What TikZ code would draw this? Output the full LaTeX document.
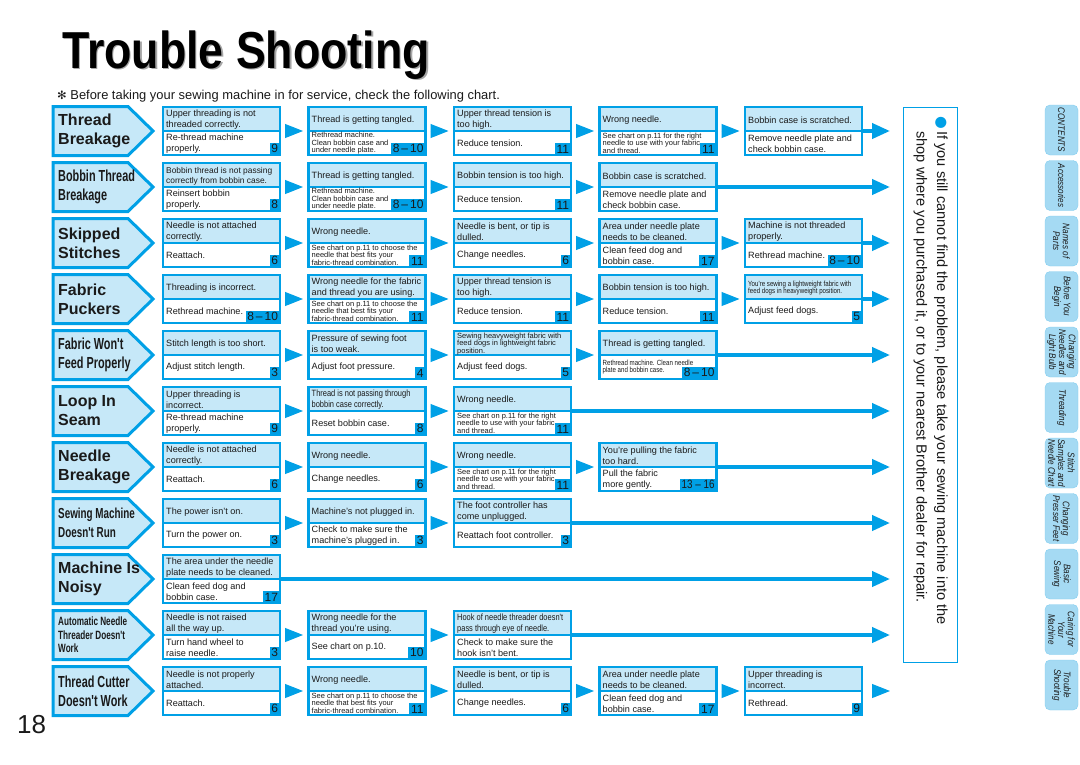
\documentclass[tikz,border=0pt]{standalone}
\usepackage{fontspec}
\setmainfont{Liberation Sans}
\newfontfamily\condf[FakeStretch=0.82]{Liberation Sans}
\newfontfamily\catf[FakeStretch=0.68]{Liberation Sans}
\newfontfamily\titf[FakeStretch=0.86]{Liberation Sans}
\newfontfamily\tabf[FakeStretch=0.84]{Liberation Sans}
\newfontfamily\djv{DejaVu Sans}
\usetikzlibrary{arrows.meta}
\definecolor{cy}{HTML}{00A0E6}
\definecolor{lb}{HTML}{C6E8F8}
\definecolor{tabc}{HTML}{A5DAF3}
\definecolor{ink}{HTML}{1A1A1A}

\newcommand\tbA{\fontsize{9.1}{11}\selectfont}
\newcommand\tbS{\fontsize{7.5}{7.4}\selectfont}
\newcommand\tbC{\condf\fontsize{9.1}{11}\selectfont}
\newcommand\tbM{\fontsize{8.4}{10}\selectfont}
\newcommand\tbSC{\condf\fontsize{7.5}{7.4}\selectfont}
\newcommand\catA{\bfseries\fontsize{16}{19}\selectfont}
\newcommand\catB{\catf\bfseries\fontsize{16}{19}\selectfont}
\newcommand\catD{\catf\bfseries\fontsize{14.5}{19}\selectfont}
\newcommand\catC{\catf\bfseries\fontsize{12}{13.5}\selectfont}

\newcommand\TBox[8]{%
  \pgfmathsetmacro\tbx{163+145.5*(#2-1)}%
  \pgfmathsetmacro\tby{106+56*(#3-1)}%
  \fill[white] (\tbx,\tby+1) rectangle (\tbx+117,\tby+49);
  \fill[lb] (\tbx,\tby+1) rectangle (\tbx+117,\tby+25);
  \draw[cy, line width=1.8pt] (\tbx,\tby+25) -- (\tbx+117,\tby+25);
  \node[frame, anchor=north west] (#1) at (\tbx,\tby+1) {};
  \node[txt, font=#7] (#1-t) at (\tbx+3,\tby+14) {#4};
  \node[txt, font=#8] (#1-b) at (\tbx+3,\tby+37.3) {#5};
  \if\relax\detokenize{#6}\relax\else
    \node[num] (#1-n) at (#1.south east) {#6};
  \fi
}
\newcommand\Cat[3]{%
  \pgfmathsetmacro\tby{106+56*(#1-1)}%
  \draw[catshape] (53,\tby+0.5) -- (128,\tby+0.5) -- (153,\tby+25) -- (128,\tby+49.5) -- (53,\tby+49.5) -- cycle;
  \node[cattxt, font=#2] (cat#1) at (58,\tby+25) {#3};
}

\begin{document}
\begin{tikzpicture}[x=1pt,y=-1pt,
  frame/.style={draw=cy, line width=2.6pt, minimum width=117pt, minimum height=48pt, inner sep=0pt, outer sep=0pt},
  txt/.style={inner sep=0pt, align=left, text=ink, anchor=west},
  num/.style={fill=cy, text=ink, font=\fontsize{12}{12}\selectfont, inner xsep=1.8pt, inner ysep=1.8pt, anchor=south east},
  gap/.style={cy, line width=1pt, -{Triangle[length=18pt,width=14pt]}, shorten <=5pt, shorten >=5.5pt},
  endarr/.style={cy, line width=4pt, -{Triangle[length=18pt,width=15pt]}},
  catshape/.style={fill=lb, draw=cy, line width=3pt, line join=miter},
  cattxt/.style={inner sep=0pt, align=left, anchor=west, text=ink},
  tab/.style={rotate=-90, fill=tabc, draw=tabc!80!cy, line width=0.4pt, rounded corners=5pt, minimum width=50pt, minimum height=33pt, inner sep=1pt, align=center, font=\tabf\itshape\fontsize{9.6}{9.8}\selectfont, text=ink}
]
\useasboundingbox (0,0) rectangle (1080,764);
\fill[white] (0,0) rectangle (1080,764);

% title
\node[font=\titf\bfseries\fontsize{52}{52}\selectfont, text=black!35, anchor=base west, inner sep=0pt] (titleshadow) at (63.5,69.5) {Trouble Shooting};
\node[font=\titf\bfseries\fontsize{52}{52}\selectfont, text=black, anchor=base west, inner sep=0pt] (title) at (62,68) {Trouble Shooting};
\node[font=\fontsize{12.9}{14}\selectfont, anchor=base west, inner sep=0pt, text=ink] (sub) at (57,99) {{\djv\fontsize{11.5}{11.5}\selectfont ✻}\ Before taking your sewing machine in for service, check the following chart.};
\node[font=\fontsize{26}{26}\selectfont, anchor=base west, inner sep=0pt, text=ink] (pg) at (17,733) {18};

% row 1
\Cat{1}{\catA}{Thread\\Breakage}
\TBox{r1-1}{1}{1}{Upper threading is not\\threaded correctly.}{Re-thread machine\\properly.}{9}{\tbA}{\tbA}
\TBox{r1-2}{2}{1}{Thread is getting tangled.}{Rethread machine.\\Clean bobbin case and\\under needle plate.}{8\,–\,10}{\tbA}{\tbS}
\TBox{r1-3}{3}{1}{Upper thread tension is\\too high.}{Reduce tension.}{11}{\tbA}{\tbA}
\TBox{r1-4}{4}{1}{Wrong needle.}{See chart on p.11 for the right\\needle to use with your fabric\\and thread.}{11}{\tbA}{\tbS}
\TBox{r1-5}{5}{1}{Bobbin case is scratched.}{Remove needle plate and\\check bobbin case.}{}{\tbA}{\tbA}
% row 2
\Cat{2}{\catB}{Bobbin Thread\\Breakage}
\TBox{r2-1}{1}{2}{Bobbin thread is not passing\\correctly from bobbin case.}{Reinsert bobbin\\properly.}{8}{\tbM}{\tbA}
\TBox{r2-2}{2}{2}{Thread is getting tangled.}{Rethread machine.\\Clean bobbin case and\\under needle plate.}{8\,–\,10}{\tbA}{\tbS}
\TBox{r2-3}{3}{2}{Bobbin tension is too high.}{Reduce tension.}{11}{\tbA}{\tbA}
\TBox{r2-4}{4}{2}{Bobbin case is scratched.}{Remove needle plate and\\check bobbin case.}{}{\tbA}{\tbA}
% row 3
\Cat{3}{\catA}{Skipped\\Stitches}
\TBox{r3-1}{1}{3}{Needle is not attached\\correctly.}{Reattach.}{6}{\tbA}{\tbA}
\TBox{r3-2}{2}{3}{Wrong needle.}{See chart on p.11 to choose the\\needle that best fits your\\fabric-thread combination.}{11}{\tbA}{\tbS}
\TBox{r3-3}{3}{3}{Needle is bent, or tip is\\dulled.}{Change needles.}{6}{\tbA}{\tbA}
\TBox{r3-4}{4}{3}{Area under needle plate\\needs to be cleaned.}{Clean feed dog and\\bobbin case.}{17}{\tbA}{\tbA}
\TBox{r3-5}{5}{3}{Machine is not threaded\\properly.}{Rethread machine.}{8\,–\,10}{\tbA}{\tbA}
% row 4
\Cat{4}{\catA}{Fabric\\Puckers}
\TBox{r4-1}{1}{4}{Threading is incorrect.}{Rethread machine.}{8\,–\,10}{\tbA}{\tbA}
\TBox{r4-2}{2}{4}{Wrong needle for the fabric\\and thread you are using.}{See chart on p.11 to choose the\\needle that best fits your\\fabric-thread combination.}{11}{\tbA}{\tbS}
\TBox{r4-3}{3}{4}{Upper thread tension is\\too high.}{Reduce tension.}{11}{\tbA}{\tbA}
\TBox{r4-4}{4}{4}{Bobbin tension is too high.}{Reduce tension.}{11}{\tbA}{\tbA}
\TBox{r4-5}{5}{4}{You're sewing a lightweight fabric with\\feed dogs in heavyweight position.}{Adjust feed dogs.}{5}{\tbSC}{\tbA}
% row 5
\Cat{5}{\catB}{Fabric Won't\\Feed Properly}
\TBox{r5-1}{1}{5}{Stitch length is too short.}{Adjust stitch length.}{3}{\tbA}{\tbA}
\TBox{r5-2}{2}{5}{Pressure of sewing foot\\is too weak.}{Adjust foot pressure.}{4}{\tbA}{\tbA}
\TBox{r5-3}{3}{5}{Sewing heavyweight fabric with\\feed dogs in lightweight fabric\\position.}{Adjust feed dogs.}{5}{\tbS}{\tbA}
\TBox{r5-4}{4}{5}{Thread is getting tangled.}{Rethread machine. Clean needle\\plate and bobbin case.}{8\,–\,10}{\tbA}{\tbSC}
% row 6
\Cat{6}{\catA}{Loop In\\Seam}
\TBox{r6-1}{1}{6}{Upper threading is\\incorrect.}{Re-thread machine\\properly.}{9}{\tbA}{\tbA}
\TBox{r6-2}{2}{6}{Thread is not passing through\\bobbin case correctly.}{Reset bobbin case.}{8}{\tbC}{\tbA}
\TBox{r6-3}{3}{6}{Wrong needle.}{See chart on p.11 for the right\\needle to use with your fabric\\and thread.}{11}{\tbA}{\tbS}
% row 7
\Cat{7}{\catA}{Needle\\Breakage}
\TBox{r7-1}{1}{7}{Needle is not attached\\correctly.}{Reattach.}{6}{\tbA}{\tbA}
\TBox{r7-2}{2}{7}{Wrong needle.}{Change needles.}{6}{\tbA}{\tbA}
\TBox{r7-3}{3}{7}{Wrong needle.}{See chart on p.11 for the right\\needle to use with your fabric\\and thread.}{11}{\tbA}{\tbS}
\TBox{r7-4}{4}{7}{You're pulling the fabric\\too hard.}{Pull the fabric\\more gently.}{{\condf 13 – 16}}{\tbA}{\tbA}
% row 8
\Cat{8}{\catD}{Sewing Machine\\Doesn't Run}
\TBox{r8-1}{1}{8}{The power isn't on.}{Turn the power on.}{3}{\tbA}{\tbA}
\TBox{r8-2}{2}{8}{Machine's not plugged in.}{Check to make sure the\\machine's plugged in.}{3}{\tbA}{\tbA}
\TBox{r8-3}{3}{8}{The foot controller has\\come unplugged.}{Reattach foot controller.}{3}{\tbA}{\tbA}
% row 9
\Cat{9}{\catA}{Machine Is\\Noisy}
\TBox{r9-1}{1}{9}{The area under the needle\\plate needs to be cleaned.}{Clean feed dog and\\bobbin case.}{17}{\tbA}{\tbA}
% row 10
\Cat{10}{\catC}{Automatic Needle\\Threader Doesn't\\Work}
\TBox{r10-1}{1}{10}{Needle is not raised\\all the way up.}{Turn hand wheel to\\raise needle.}{3}{\tbA}{\tbA}
\TBox{r10-2}{2}{10}{Wrong needle for the\\thread you're using.}{See chart on p.10.}{10}{\tbA}{\tbA}
\TBox{r10-3}{3}{10}{Hook of needle threader doesn't\\pass through eye of needle.}{Check to make sure the\\hook isn't bent.}{}{\tbC}{\tbA}
% row 11
\Cat{11}{\catB}{Thread Cutter\\Doesn't Work}
\TBox{r11-1}{1}{11}{Needle is not properly\\attached.}{Reattach.}{6}{\tbA}{\tbA}
\TBox{r11-2}{2}{11}{Wrong needle.}{See chart on p.11 to choose the\\needle that best fits your\\fabric-thread combination.}{11}{\tbA}{\tbS}
\TBox{r11-3}{3}{11}{Needle is bent, or tip is\\dulled.}{Change needles.}{6}{\tbA}{\tbA}
\TBox{r11-4}{4}{11}{Area under needle plate\\needs to be cleaned.}{Clean feed dog and\\bobbin case.}{17}{\tbA}{\tbA}
\TBox{r11-5}{5}{11}{Upper threading is\\incorrect.}{Rethread.}{9}{\tbA}{\tbA}

% arrows between boxes
\foreach \r/\n in {1/5,2/4,3/5,4/5,5/4,6/3,7/4,8/3,10/3,11/5}{
  \pgfmathtruncatemacro\mm{\n-1}
  \foreach \c in {1,...,\mm}{
    \pgfmathtruncatemacro\dd{\c+1}
    \draw[gap] (r\r-\c) -- (r\r-\dd);
  }
}
% final arrows
\foreach \r/\c in {1/5,2/4,3/5,4/5,5/4,6/3,7/4,8/3,9/1,10/3}{
  \coordinate (e\r) at (890,{106+56*(\r-1)+25});
  \draw[endarr] (r\r-\c) -- (e\r);
}
\coordinate (e11) at (890,{106+560+25});
\draw[gap, shorten <=10pt, shorten >=0pt] (r11-5) -- (e11);

% note box
\node[draw=cy, line width=1.2pt, anchor=north west, minimum width=54pt, minimum height=555pt, inner sep=0pt] (notebox) at (903,107) {};
\node[rotate=-90, anchor=north west, align=left, inner sep=0pt, text=ink, font=\fontsize{14.6}{20.5}\selectfont] (note) at (948,116)
  {{\color{cy}\djv ●}\,If you still cannot find the problem, please take your sewing machine into the\\\hphantom{{\djv ●}\,}shop where you purchased it, or to your nearest Brother dealer for repair.};

% side tabs
\foreach \lab [count=\i from 0] in {{CONTENTS},{Accessories},{Names of\\Parts},{Before You\\Begin},{Changing\\Needles and\\Light Bulb},{Threading},{Stitch\\Samples and\\Needle Chart},{Changing\\Presser Feet},{Basic\\Sewing},{Caring for\\Your\\Machine},{Trouble\\Shooting}}
  \node[tab] (tab\i) at (1061.5,{130+55.5*\i}) {\lab};
\end{tikzpicture}
\end{document}
